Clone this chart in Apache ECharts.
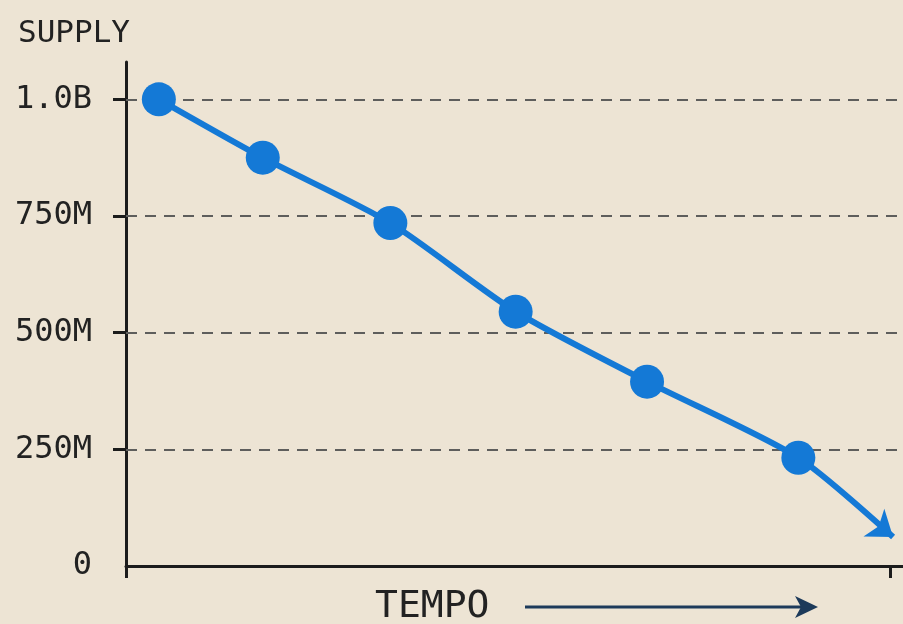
<!DOCTYPE html>
<html><head><meta charset="utf-8">
<script src="https://cdn.jsdelivr.net/npm/echarts@6/dist/echarts.min.js"></script>
<style>html,body{margin:0;padding:0;background:#ede4d4;}#c{width:903px;height:624px;}</style>
</head><body><div id="c"></div>
<script>
const tempo = [4.3, 17.9, 34.6, 51.0, 68.2, 88.0, 100.4];
const supply = [1000e6, 875e6, 735e6, 545e6, 395e6, 232e6, 62e6];
const yTicks = [0, 250e6, 500e6, 750e6, 1000e6];
const gridValues = [250e6, 500e6, 750e6, 1000e6];
const xTicks = [0, 100];

function fmt(v){
  if (v === 0) return '0';
  if (v >= 1e9) return (v/1e9).toFixed(1) + 'B';
  return Math.round(v/1e6) + 'M';
}

const data = tempo.map((t, i) => {
  const item = { value: [t, supply[i]] };
  if (i === tempo.length - 1) {
    item.symbol = 'arrow';
    item.symbolSize = [26, 24];
    item.symbolRotate = -127;
  }
  return item;
});

const FONT = 'DejaVu Sans Mono';
const chart = echarts.init(document.getElementById('c'));
chart.setOption({
  backgroundColor: '#ede4d4',
  animation: false,
  grid: { left: 126, right: 0, top: 62, bottom: 58 },
  xAxis: {
    type: 'value', min: 0, max: 101.7,
    axisLine: { show: true, lineStyle: { color: '#1c1c1c', width: 3 } },
    axisTick: { show: true, customValues: xTicks, length: 12, lineStyle: { color: '#1c1c1c', width: 3 } },
    axisLabel: { show: false },
    splitLine: { show: false }
  },
  yAxis: {
    type: 'value', min: 0, max: 1.08e9,
    name: 'SUPPLY', nameLocation: 'end', nameGap: 28,
    nameTextStyle: { fontFamily: FONT, fontSize: 31, color: '#222', align: 'right', verticalAlign: 'middle', padding: [0, -4, 0, 0] },
    axisLine: { show: true, lineStyle: { color: '#1c1c1c', width: 3 } },
    axisTick: { show: true, customValues: gridValues, length: 13, lineStyle: { color: '#1c1c1c', width: 3 } },
    axisLabel: { customValues: yTicks, formatter: fmt, fontFamily: FONT, fontSize: 32, color: '#222', margin: 34 },
    splitLine: { show: false }
  },
  series: [{
    type: 'line',
    data: data,
    smooth: 0.25,
    symbol: 'circle',
    symbolSize: 34,
    z: 3,
    lineStyle: { color: '#1479d6', width: 6 },
    itemStyle: { color: '#1479d6' },
    markLine: {
      z: 1, silent: true, symbol: 'none', label: { show: false },
      lineStyle: { color: '#5e5e5c', type: [11, 8], width: 2 },
      data: gridValues.map(v => ({ yAxis: v }))
    }
  }],
  graphic: [
    { type: 'text', left: 375, top: 588, style: { text: 'TEMPO', fontFamily: FONT, fontSize: 38, fill: '#222' } },
    { type: 'line', shape: { x1: 525, y1: 607, x2: 805, y2: 607 }, style: { stroke: '#1d3a5a', lineWidth: 3 } },
    { type: 'polygon', shape: { points: [[795, 596], [818, 607], [795, 618], [801, 607]] }, style: { fill: '#1d3a5a' } }
  ]
});
</script></body></html>
